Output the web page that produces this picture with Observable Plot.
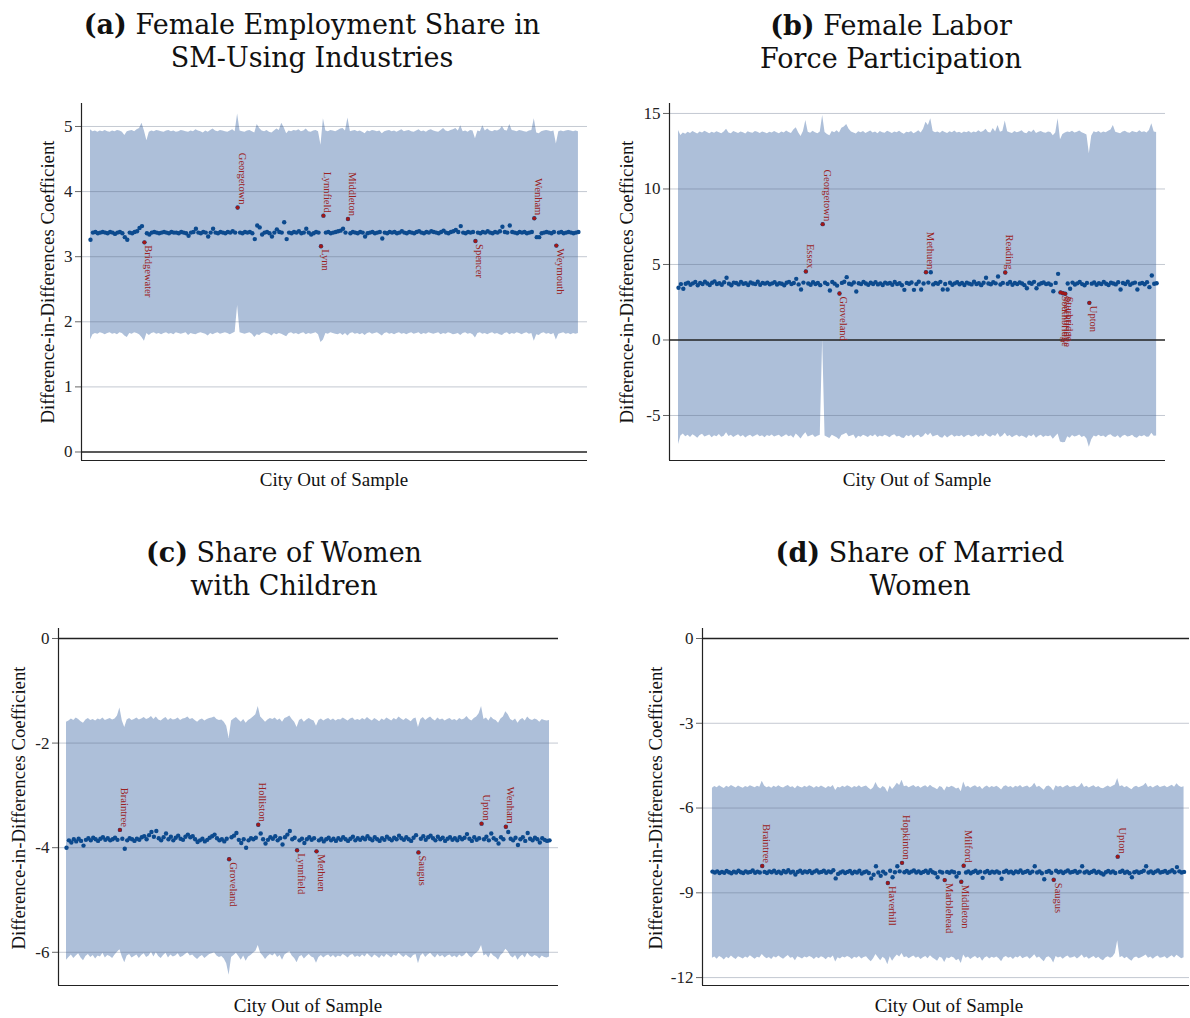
<!DOCTYPE html>
<html><head><meta charset="utf-8">
<script src="https://cdn.jsdelivr.net/npm/d3@7"></script>
<script src="https://cdn.jsdelivr.net/npm/@observablehq/plot@0.6"></script>
<style>
body{margin:0;background:#fff;}
#root{position:relative;width:1190px;height:1018px;overflow:hidden;font-family:"Liberation Serif",serif;color:#111;}
.title{position:absolute;text-align:center;font-family:"DejaVu Serif",serif;font-size:27px;line-height:33px;white-space:nowrap;transform:translateX(-50%);}
.ylab{position:absolute;font-size:18.8px;white-space:nowrap;transform:translate(-50%,-50%) rotate(-90deg);}
.xlab{position:absolute;font-size:19px;white-space:nowrap;transform:translate(-50%,-50%);}
.panel{position:absolute;}
</style></head>
<body>
<div id="root">
  <div class="title" style="left:312px;top:8px"><b>(a)</b> Female Employment Share in<br>SM-Using Industries</div>
  <div class="title" style="left:891px;top:9px"><b>(b)</b> Female Labor<br>Force Participation</div>
  <div class="title" style="left:284px;top:536px"><b>(c)</b> Share of Women<br>with Children</div>
  <div class="title" style="left:920px;top:536px"><b>(d)</b> Share of Married<br>Women</div>
  <div class="ylab" style="left:48px;top:282px">Difference-in-Differences Coefficient</div>
  <div class="ylab" style="left:627px;top:282px">Difference-in-Differences Coefficient</div>
  <div class="ylab" style="left:19px;top:808px">Difference-in-Differences Coefficient</div>
  <div class="ylab" style="left:656px;top:808px">Difference-in-Differences Coefficient</div>
  <div class="xlab" style="left:334px;top:480px">City Out of Sample</div>
  <div class="xlab" style="left:917px;top:480px">City Out of Sample</div>
  <div class="xlab" style="left:308px;top:1006px">City Out of Sample</div>
  <div class="xlab" style="left:949px;top:1006px">City Out of Sample</div>
</div>
<script>
// ---------- Panel (a): Female Employment Share in SM-Using Industries ----------
const estA = [
3.26,3.37,3.38,3.36,3.37,3.38,3.37,3.36,3.38,3.37,3.35,3.37,3.38,3.36,3.30,3.26,3.37,3.36,3.38,3.39,
3.44,3.47,3.22,3.36,3.34,3.37,3.38,3.37,3.36,3.37,3.38,3.37,3.36,3.38,3.37,3.37,3.36,3.38,3.37,3.36,
3.32,3.37,3.38,3.43,3.37,3.36,3.38,3.37,3.31,3.37,3.43,3.37,3.36,3.38,3.37,3.36,3.38,3.37,3.39,3.37,
3.755,3.37,3.36,3.38,3.37,3.38,3.36,3.27,3.48,3.45,3.34,3.37,3.38,3.36,3.31,3.37,3.42,3.38,3.37,3.53,
3.27,3.37,3.36,3.38,3.37,3.39,3.36,3.37,3.43,3.37,3.34,3.36,3.38,3.37,3.16,3.63,3.37,3.38,3.36,3.37,
3.38,3.39,3.40,3.43,3.37,3.58,3.36,3.38,3.37,3.36,3.38,3.37,3.31,3.36,3.37,3.38,3.36,3.37,3.38,3.28,
3.37,3.36,3.38,3.37,3.38,3.36,3.37,3.39,3.37,3.36,3.38,3.37,3.36,3.38,3.39,3.37,3.36,3.38,3.37,3.39,
3.38,3.37,3.36,3.38,3.40,3.37,3.36,3.38,3.39,3.41,3.38,3.47,3.37,3.36,3.38,3.37,3.38,3.24,3.37,3.36,
3.38,3.37,3.39,3.37,3.36,3.38,3.37,3.39,3.46,3.38,3.37,3.48,3.38,3.37,3.36,3.38,3.37,3.38,3.36,3.37,
3.38,3.59,3.30,3.30,3.36,3.37,3.38,3.37,3.36,3.38,3.17,3.37,3.38,3.36,3.37,3.38,3.37,3.36,3.37,3.38];
const hiA = [
4.95,4.92,4.93,4.91,4.93,4.92,4.94,4.92,4.91,4.93,4.92,4.94,4.93,4.91,4.86,4.92,4.93,4.94,4.92,4.95,
4.97,5.05,4.93,4.78,4.91,4.93,4.92,4.94,4.93,4.92,4.91,4.93,4.94,4.92,4.93,4.91,4.92,4.94,4.93,4.92,
4.91,4.93,4.92,4.95,4.93,4.92,4.90,4.93,4.91,4.94,4.96,4.93,4.92,4.94,4.93,4.92,4.91,4.93,4.95,4.92,
5.19,4.93,4.92,4.91,4.93,4.94,4.92,4.90,5.03,4.97,4.93,4.92,4.94,4.91,4.90,4.93,4.96,4.94,5.05,4.98,
4.89,4.93,4.92,4.94,4.93,4.95,4.92,4.93,4.96,4.92,4.91,4.93,4.94,4.92,4.71,5.12,4.93,4.92,4.94,4.93,
4.92,4.94,4.96,4.97,4.93,5.13,4.92,4.93,4.94,4.92,4.93,4.91,4.89,4.93,4.92,4.94,4.93,4.92,4.93,4.89,
4.92,4.93,4.94,4.92,4.93,4.91,4.93,4.95,4.92,4.93,4.94,4.92,4.91,4.93,4.95,4.92,4.93,4.91,4.94,4.95,
4.93,4.92,4.91,4.94,4.97,4.93,4.92,4.94,4.95,4.97,4.93,5.01,4.92,4.93,4.91,4.94,4.93,4.81,4.93,4.92,
5.01,4.93,4.96,4.93,4.92,4.94,4.93,4.95,5.00,4.94,4.93,5.03,4.94,4.93,4.92,4.94,4.93,4.92,4.91,4.93,
4.94,5.12,4.90,4.89,4.92,4.93,4.94,4.93,4.92,4.93,4.73,4.92,4.93,4.92,4.93,4.94,4.93,4.92,4.93,4.92];
const loA = [
1.72,1.80,1.82,1.81,1.83,1.82,1.80,1.82,1.83,1.81,1.82,1.80,1.83,1.82,1.78,1.76,1.82,1.81,1.83,1.82,
1.80,1.76,1.70,1.82,1.79,1.82,1.83,1.81,1.82,1.80,1.82,1.83,1.81,1.82,1.80,1.83,1.82,1.81,1.82,1.83,
1.79,1.82,1.81,1.80,1.82,1.83,1.82,1.81,1.78,1.82,1.80,1.82,1.83,1.81,1.82,1.83,1.82,1.80,1.82,1.84,
2.25,1.83,1.82,1.81,1.82,1.83,1.81,1.76,1.80,1.79,1.82,1.83,1.82,1.81,1.78,1.82,1.80,1.82,1.81,1.79,
1.77,1.82,1.83,1.81,1.82,1.80,1.82,1.83,1.80,1.82,1.81,1.82,1.83,1.80,1.68,1.72,1.82,1.81,1.83,1.82,
1.81,1.80,1.82,1.79,1.82,1.78,1.82,1.83,1.81,1.82,1.80,1.82,1.79,1.82,1.83,1.81,1.82,1.83,1.81,1.78,
1.82,1.83,1.81,1.82,1.80,1.82,1.83,1.81,1.82,1.80,1.82,1.83,1.81,1.82,1.83,1.80,1.82,1.81,1.83,1.82,
1.81,1.82,1.83,1.80,1.82,1.81,1.83,1.82,1.80,1.81,1.82,1.79,1.82,1.83,1.81,1.82,1.80,1.75,1.82,1.83,
1.81,1.82,1.80,1.82,1.83,1.81,1.82,1.80,1.79,1.82,1.83,1.80,1.82,1.81,1.83,1.82,1.80,1.82,1.83,1.81,
1.82,1.70,1.80,1.79,1.82,1.83,1.81,1.82,1.80,1.82,1.72,1.81,1.82,1.83,1.81,1.82,1.80,1.82,1.81,1.82];
const namesA = ["Bridgewater","Georgetown","Lynn","Lynnfield","Middleton","Spencer","Wenham","Weymouth"];
const idxA = [22,60,94,95,105,157,181,190];
const ticksA = [0,1,2,3,4,5];

// ---------- Panel (b): Female Labor Force Participation ----------
const estB = [
3.46,3.70,3.39,3.72,3.80,3.66,3.75,3.84,3.62,3.78,3.70,3.86,3.74,3.64,3.79,3.88,3.71,3.76,3.66,3.82,
4.12,3.73,3.62,3.80,3.77,3.68,3.85,3.72,3.76,3.64,3.81,3.74,3.70,3.86,3.66,3.78,3.73,3.80,3.69,3.75,
3.83,3.67,3.76,3.72,3.62,3.79,3.85,3.70,3.77,4.05,3.68,3.34,3.80,4.54,3.74,3.66,3.82,3.71,3.77,3.63,
7.67,3.79,3.70,3.28,3.84,3.73,3.60,3.08,3.78,3.86,4.16,3.72,3.67,3.81,3.21,3.76,3.70,3.85,3.74,3.66,
3.79,3.71,3.83,3.68,3.75,3.64,3.80,3.73,3.77,3.66,3.84,3.70,3.76,3.62,3.32,3.78,3.72,3.81,3.32,3.70,
3.86,3.34,3.74,4.49,3.80,4.49,3.68,3.77,3.72,3.85,3.34,3.71,3.34,3.79,3.66,3.75,3.82,3.69,3.77,3.64,
3.80,3.73,3.68,3.86,3.71,3.76,3.63,3.79,4.12,3.74,3.69,3.82,3.75,4.20,3.67,3.78,4.47,3.72,3.84,3.66,
3.77,3.70,3.81,3.74,3.63,3.43,3.79,3.72,3.85,3.43,3.68,3.76,3.81,3.70,3.74,3.66,3.23,3.78,4.38,3.15,
3.10,3.06,3.74,3.39,3.80,3.67,3.75,3.84,3.70,3.62,3.78,2.46,3.73,3.81,3.66,3.76,3.70,3.85,3.72,3.64,
3.79,3.74,3.68,3.82,3.34,3.77,3.71,3.86,3.66,3.75,3.80,3.34,3.73,3.78,3.69,3.83,3.50,4.27,3.72,3.76];
const hiB = [
13.87,13.54,13.70,13.62,13.75,13.68,13.80,13.72,13.64,13.78,13.70,13.82,13.74,13.66,13.76,13.69,13.79,13.73,13.65,13.77,
13.95,13.71,13.66,13.80,13.74,13.68,13.77,13.72,13.64,13.79,13.73,13.69,13.81,13.75,13.67,13.78,13.72,13.65,13.76,13.70,
13.80,13.73,13.66,13.77,13.71,13.84,13.74,13.68,13.90,14.05,13.72,13.47,13.80,14.54,13.75,13.69,13.82,13.72,13.66,13.78,
14.87,13.74,13.60,13.52,13.80,13.73,13.86,13.70,14.02,14.10,14.27,13.95,13.78,13.70,13.64,13.79,13.72,13.81,13.68,13.75,
13.84,13.71,13.77,13.66,13.80,13.73,13.69,13.82,13.75,13.67,13.78,13.72,13.83,13.70,13.62,13.76,13.73,13.80,13.66,13.74,
13.85,13.70,13.95,14.42,14.20,14.65,13.80,13.73,13.77,13.69,13.82,13.74,13.68,13.79,13.72,13.84,13.70,13.76,13.67,13.78,
13.73,13.81,13.69,13.77,13.72,13.86,13.74,13.80,13.96,13.74,13.70,14.00,13.78,14.20,13.75,13.82,14.50,13.79,13.73,13.68,
13.80,13.72,13.77,13.85,13.70,13.66,13.82,13.74,13.90,13.68,13.76,13.80,13.72,13.69,13.78,13.74,13.52,13.70,14.65,13.26,
13.60,13.70,13.78,13.74,13.82,13.70,13.76,13.84,13.72,13.66,13.58,12.33,13.50,13.79,13.73,13.80,13.69,13.77,13.72,13.83,
13.90,14.20,13.75,13.70,13.66,13.78,13.82,13.73,13.69,13.80,13.76,13.72,13.85,13.74,13.79,13.70,13.88,14.32,13.78,13.74];
const loB = [
-6.92,-6.35,-6.22,-6.40,-6.30,-6.45,-6.28,-6.38,-6.50,-6.33,-6.25,-6.42,-6.36,-6.29,-6.47,-6.34,-6.40,-6.26,-6.44,-6.37,
-6.15,-6.39,-6.31,-6.46,-6.35,-6.28,-6.42,-6.33,-6.49,-6.38,-6.30,-6.44,-6.36,-6.27,-6.41,-6.34,-6.48,-6.32,-6.39,-6.29,
-6.43,-6.35,-6.30,-6.46,-6.38,-6.27,-6.41,-6.34,-6.50,-6.22,-6.37,-6.55,-6.33,-6.15,-6.42,-6.36,-6.29,-6.45,-6.38,-6.31,
0.05,-6.35,-6.44,-6.52,-6.30,-6.39,-6.47,-6.60,-6.33,-6.26,-6.18,-6.41,-6.36,-6.29,-6.55,-6.38,-6.44,-6.31,-6.37,-6.46,
-6.33,-6.40,-6.28,-6.45,-6.36,-6.42,-6.30,-6.38,-6.47,-6.34,-6.27,-6.43,-6.37,-6.49,-6.52,-6.33,-6.40,-6.29,-6.50,-6.36,
-6.31,-6.48,-6.39,-6.20,-6.34,-6.18,-6.42,-6.36,-6.30,-6.45,-6.50,-6.33,-6.49,-6.38,-6.29,-6.44,-6.35,-6.41,-6.32,-6.47,
-6.36,-6.30,-6.43,-6.38,-6.27,-6.45,-6.34,-6.40,-6.22,-6.37,-6.44,-6.31,-6.39,-6.20,-6.46,-6.35,-6.18,-6.41,-6.33,-6.48,
-6.37,-6.30,-6.44,-6.35,-6.42,-6.52,-6.33,-6.40,-6.28,-6.50,-6.38,-6.31,-6.45,-6.36,-6.41,-6.34,-6.58,-6.39,-6.22,-6.75,
-6.80,-6.78,-6.40,-6.50,-6.33,-6.42,-6.37,-6.29,-6.45,-6.38,-6.55,-7.10,-6.60,-6.35,-6.43,-6.30,-6.41,-6.36,-6.47,-6.32,
-6.28,-6.40,-6.45,-6.34,-6.52,-6.37,-6.31,-6.43,-6.39,-6.30,-6.46,-6.50,-6.35,-6.41,-6.33,-6.44,-6.42,-6.18,-6.38,-6.35];
const namesB = ["Essex","Georgetown","Groveland","Methuen","Reading","Southbridge","Stockbridge","Sturbridge","Upton"];
const idxB = [53,60,67,103,136,159,160,161,171];
const ticksB = [-5,0,5,10,15];

// ---------- Panel (c): Share of Women with Children ----------
const estC = [
-4.00,-3.86,-3.90,-3.84,-3.88,-3.83,-3.87,-3.96,-3.85,-3.82,-3.86,-3.81,-3.84,-3.87,-3.83,-3.80,-3.85,-3.82,-3.86,-3.84,
-3.81,-3.85,-3.66,-3.83,-4.02,-3.86,-3.82,-3.84,-3.87,-3.83,-3.85,-3.80,-3.78,-3.84,-3.76,-3.70,-3.79,-3.68,-3.82,-3.86,
-3.80,-3.73,-3.84,-3.79,-3.86,-3.81,-3.77,-3.83,-3.85,-3.79,-3.75,-3.80,-3.78,-3.84,-3.89,-3.86,-3.83,-3.88,-3.85,-3.81,
-3.78,-3.75,-3.82,-3.86,-3.84,-3.88,-3.83,-4.22,-3.80,-3.77,-3.72,-3.85,-3.91,-3.84,-4.00,-3.86,-3.82,-3.84,-3.81,-3.56,
-3.73,-3.84,-3.92,-3.85,-3.80,-3.83,-3.78,-3.86,-3.82,-3.94,-3.80,-3.75,-3.68,-3.84,-3.81,-4.05,-3.86,-3.83,-3.91,-3.84,
-3.80,-3.85,-3.82,-4.07,-3.86,-3.83,-3.88,-3.84,-3.81,-3.86,-3.83,-3.87,-3.82,-3.85,-3.80,-3.84,-3.87,-3.83,-3.79,-3.86,
-3.82,-3.85,-3.81,-3.84,-3.78,-3.83,-3.86,-3.80,-3.84,-3.87,-3.82,-3.85,-3.79,-3.83,-3.86,-3.81,-3.84,-3.77,-3.82,-3.85,
-3.80,-3.84,-3.87,-3.81,-3.76,-4.09,-3.83,-3.78,-3.85,-3.80,-3.77,-3.82,-3.86,-3.79,-3.84,-3.81,-3.87,-3.83,-3.80,-3.85,
-3.82,-3.86,-3.80,-3.84,-3.81,-3.74,-3.83,-3.87,-3.80,-3.85,-3.82,-3.54,-3.84,-3.79,-3.86,-3.73,-3.82,-3.85,-3.92,-3.80,
-3.84,-3.60,-3.70,-3.83,-3.86,-3.81,-3.95,-3.84,-3.80,-3.87,-3.72,-3.83,-3.86,-3.81,-3.84,-3.90,-3.82,-3.85,-3.87,-3.86];
const hiC = [
-1.60,-1.58,-1.54,-1.57,-1.52,-1.55,-1.59,-1.62,-1.56,-1.53,-1.57,-1.55,-1.58,-1.54,-1.56,-1.52,-1.57,-1.55,-1.53,-1.56,
-1.54,-1.48,-1.33,-1.58,-1.70,-1.56,-1.53,-1.57,-1.55,-1.52,-1.56,-1.54,-1.51,-1.55,-1.53,-1.49,-1.55,-1.50,-1.56,-1.58,
-1.54,-1.51,-1.57,-1.53,-1.56,-1.55,-1.52,-1.57,-1.54,-1.53,-1.50,-1.55,-1.53,-1.57,-1.60,-1.56,-1.54,-1.58,-1.55,-1.53,
-1.52,-1.50,-1.55,-1.57,-1.56,-1.60,-1.68,-1.91,-1.58,-1.54,-1.51,-1.56,-1.60,-1.55,-1.62,-1.57,-1.54,-1.50,-1.46,-1.30,
-1.50,-1.55,-1.60,-1.56,-1.53,-1.55,-1.52,-1.57,-1.54,-1.60,-1.53,-1.51,-1.48,-1.55,-1.60,-1.70,-1.57,-1.54,-1.60,-1.56,
-1.53,-1.56,-1.58,-1.68,-1.57,-1.54,-1.58,-1.55,-1.53,-1.57,-1.54,-1.58,-1.55,-1.56,-1.52,-1.55,-1.58,-1.54,-1.52,-1.57,
-1.55,-1.57,-1.53,-1.56,-1.51,-1.55,-1.58,-1.53,-1.56,-1.59,-1.54,-1.57,-1.52,-1.55,-1.58,-1.53,-1.56,-1.50,-1.54,-1.57,
-1.53,-1.56,-1.59,-1.54,-1.52,-1.70,-1.55,-1.51,-1.57,-1.53,-1.50,-1.55,-1.58,-1.52,-1.56,-1.54,-1.58,-1.55,-1.53,-1.57,
-1.55,-1.58,-1.53,-1.56,-1.54,-1.49,-1.55,-1.58,-1.53,-1.50,-1.44,-1.30,-1.55,-1.52,-1.58,-1.50,-1.55,-1.57,-1.62,-1.54,
-1.50,-1.40,-1.46,-1.55,-1.58,-1.54,-1.62,-1.56,-1.53,-1.58,-1.50,-1.55,-1.57,-1.54,-1.56,-1.60,-1.55,-1.57,-1.58,-1.57];
const loC = [
-6.15,-6.10,-6.05,-6.12,-6.07,-6.03,-6.11,-6.16,-6.08,-6.04,-6.10,-6.06,-6.13,-6.07,-6.09,-6.02,-6.11,-6.06,-6.08,-6.12,
-6.05,-6.00,-5.95,-6.09,-6.20,-6.07,-6.04,-6.11,-6.08,-6.05,-6.12,-6.06,-6.03,-6.10,-6.07,-6.00,-6.09,-6.01,-6.08,-6.12,
-6.06,-6.02,-6.11,-6.05,-6.09,-6.07,-6.03,-6.10,-6.08,-6.04,-6.01,-6.07,-6.05,-6.10,-6.14,-6.09,-6.06,-6.12,-6.08,-6.04,
-6.03,-6.01,-6.07,-6.10,-6.08,-6.13,-6.22,-6.44,-6.10,-6.06,-6.02,-6.08,-6.15,-6.07,-6.17,-6.09,-6.06,-6.02,-5.98,-5.87,
-6.02,-6.07,-6.14,-6.08,-6.04,-6.07,-6.03,-6.10,-6.06,-6.15,-6.05,-6.02,-5.99,-6.07,-6.12,-6.20,-6.09,-6.06,-6.13,-6.08,
-6.04,-6.09,-6.11,-6.21,-6.10,-6.06,-6.11,-6.07,-6.05,-6.10,-6.06,-6.11,-6.07,-6.09,-6.04,-6.07,-6.11,-6.06,-6.04,-6.10,
-6.07,-6.10,-6.05,-6.09,-6.03,-6.07,-6.11,-6.05,-6.08,-6.12,-6.06,-6.10,-6.04,-6.07,-6.11,-6.05,-6.08,-6.02,-6.06,-6.10,
-6.05,-6.09,-6.12,-6.06,-6.04,-6.22,-6.07,-6.03,-6.10,-6.05,-6.02,-6.07,-6.11,-6.04,-6.09,-6.06,-6.11,-6.07,-6.05,-6.10,
-6.07,-6.11,-6.05,-6.09,-6.06,-6.01,-6.07,-6.11,-6.05,-6.02,-5.97,-5.87,-6.07,-6.04,-6.11,-6.02,-6.07,-6.10,-6.15,-6.06,
-6.02,-5.94,-5.99,-6.07,-6.11,-6.06,-6.15,-6.09,-6.05,-6.11,-6.02,-6.07,-6.10,-6.06,-6.08,-6.13,-6.07,-6.10,-6.11,-6.09];
const namesC = ["Braintree","Groveland","Holliston","Lynnfield","Methuen","Saugus","Upton","Wenham"];
const idxC = [22,67,79,95,103,145,171,181];
const ticksC = [-6,-4,-2,0];

// ---------- Panel (d): Share of Married Women ----------
const estD = [
-8.25,-8.28,-8.24,-8.30,-8.26,-8.29,-8.23,-8.27,-8.31,-8.25,-8.28,-8.22,-8.27,-8.30,-8.24,-8.28,-8.26,-8.21,-8.29,-8.25,
-8.28,-8.05,-8.26,-8.30,-8.24,-8.27,-8.22,-8.29,-8.25,-8.31,-8.23,-8.27,-8.20,-8.28,-8.25,-8.35,-8.26,-8.22,-8.29,-8.24,
-8.27,-8.23,-8.30,-8.25,-8.21,-8.28,-8.26,-8.22,-8.29,-8.24,-8.27,-8.20,-8.49,-8.33,-8.28,-8.24,-8.30,-8.26,-8.23,-8.31,
-8.25,-8.28,-8.22,-8.32,-8.27,-8.24,-8.30,-8.49,-8.36,-8.06,-8.28,-8.40,-8.25,-8.32,-8.65,-8.22,-8.45,-8.27,-8.06,-8.24,
-7.94,-8.27,-8.23,-8.29,-8.25,-8.21,-8.28,-8.24,-8.30,-8.26,-8.22,-8.29,-8.20,-8.27,-8.31,-8.45,-8.25,-8.28,-8.55,-8.26,
-8.29,-8.24,-8.27,-8.42,-8.30,-8.61,-8.04,-8.28,-8.24,-8.31,-8.26,-8.22,-8.29,-8.25,-8.47,-8.27,-8.23,-8.30,-8.25,-8.28,
-8.24,-8.29,-8.50,-8.26,-8.22,-8.28,-8.25,-8.31,-8.24,-8.27,-8.21,-8.29,-8.26,-8.23,-8.30,-8.25,-8.06,-8.28,-8.24,-8.31,
-8.52,-8.26,-8.23,-8.29,-8.54,-8.22,-8.27,-8.24,-8.30,-8.25,-8.21,-8.28,-8.26,-8.23,-8.29,-8.25,-8.06,-8.28,-8.24,-8.30,
-8.26,-8.22,-8.29,-8.25,-8.31,-8.35,-8.27,-8.23,-8.28,-8.24,-8.30,-7.72,-8.26,-8.22,-8.29,-8.25,-8.31,-8.45,-8.27,-8.24,
-8.29,-8.26,-8.22,-8.06,-8.28,-8.24,-8.30,-8.25,-8.21,-8.28,-8.26,-8.23,-8.29,-8.25,-8.20,-8.27,-8.09,-8.24,-8.28,-8.26];
const hiD = [
-5.30,-5.24,-5.28,-5.21,-5.26,-5.31,-5.23,-5.27,-5.20,-5.25,-5.29,-5.22,-5.26,-5.30,-5.24,-5.27,-5.21,-5.25,-5.28,-5.23,
-5.26,-5.05,-5.22,-5.28,-5.25,-5.30,-5.23,-5.27,-5.21,-5.26,-5.29,-5.24,-5.20,-5.27,-5.25,-5.32,-5.22,-5.26,-5.29,-5.23,
-5.27,-5.21,-5.25,-5.30,-5.24,-5.28,-5.22,-5.26,-5.31,-5.24,-5.27,-5.20,-5.38,-5.26,-5.29,-5.23,-5.27,-5.21,-5.25,-5.30,
-5.24,-5.27,-5.21,-5.28,-5.25,-5.22,-5.30,-5.36,-5.28,-5.10,-5.26,-5.33,-5.24,-5.29,-5.45,-5.22,-5.34,-5.25,-5.12,-5.20,
-5.02,-5.25,-5.22,-5.28,-5.24,-5.20,-5.27,-5.23,-5.30,-5.25,-5.21,-5.28,-5.19,-5.26,-5.30,-5.35,-5.24,-5.27,-5.40,-5.25,
-5.28,-5.23,-5.26,-5.33,-5.29,-5.42,-5.08,-5.27,-5.23,-5.30,-5.25,-5.21,-5.28,-5.24,-5.34,-5.26,-5.22,-5.29,-5.24,-5.27,
-5.23,-5.28,-5.36,-5.25,-5.21,-5.27,-5.24,-5.30,-5.23,-5.26,-5.20,-5.28,-5.25,-5.22,-5.29,-5.24,-5.12,-5.27,-5.23,-5.30,
-5.37,-5.25,-5.22,-5.28,-5.40,-5.21,-5.26,-5.23,-5.29,-5.24,-5.20,-5.27,-5.25,-5.22,-5.28,-5.24,-5.12,-5.27,-5.23,-5.29,
-5.25,-5.21,-5.28,-5.24,-5.30,-5.32,-5.26,-5.22,-5.27,-5.23,-5.18,-4.95,-5.25,-5.21,-5.28,-5.24,-5.30,-5.35,-5.26,-5.23,
-5.28,-5.25,-5.21,-5.12,-5.27,-5.23,-5.29,-5.24,-5.20,-5.27,-5.25,-5.22,-5.28,-5.24,-5.19,-5.26,-5.14,-5.23,-5.27,-5.25];
const loD = [
-11.32,-11.27,-11.35,-11.25,-11.30,-11.38,-11.28,-11.33,-11.24,-11.31,-11.36,-11.26,-11.30,-11.34,-11.27,-11.32,-11.23,-11.29,-11.35,-11.28,
-11.31,-11.18,-11.27,-11.33,-11.29,-11.36,-11.26,-11.31,-11.24,-11.30,-11.35,-11.28,-11.22,-11.32,-11.29,-11.40,-11.26,-11.30,-11.34,-11.27,
-11.31,-11.25,-11.29,-11.36,-11.28,-11.33,-11.26,-11.30,-11.37,-11.28,-11.32,-11.24,-11.45,-11.30,-11.34,-11.27,-11.31,-11.25,-11.29,-11.36,
-11.28,-11.32,-11.25,-11.34,-11.29,-11.26,-11.36,-11.44,-11.33,-11.18,-11.30,-11.40,-11.28,-11.35,-11.55,-11.26,-11.42,-11.30,-11.20,-11.27,
-11.15,-11.30,-11.26,-11.33,-11.28,-11.24,-11.32,-11.27,-11.36,-11.30,-11.25,-11.33,-11.23,-11.31,-11.36,-11.42,-11.28,-11.32,-11.47,-11.30,
-11.33,-11.27,-11.31,-11.40,-11.35,-11.50,-11.20,-11.32,-11.27,-11.36,-11.30,-11.25,-11.33,-11.28,-11.42,-11.31,-11.26,-11.34,-11.28,-11.32,
-11.27,-11.33,-11.44,-11.30,-11.25,-11.32,-11.28,-11.36,-11.27,-11.31,-11.24,-11.33,-11.29,-11.26,-11.35,-11.28,-11.19,-11.32,-11.27,-11.36,
-11.44,-11.30,-11.26,-11.33,-11.48,-11.25,-11.31,-11.27,-11.35,-11.28,-11.24,-11.32,-11.30,-11.26,-11.34,-11.28,-11.20,-11.32,-11.27,-11.35,
-11.30,-11.25,-11.33,-11.28,-11.36,-11.40,-11.31,-11.26,-11.32,-11.27,-11.15,-10.70,-11.30,-11.25,-11.33,-11.28,-11.36,-11.42,-11.31,-11.27,
-11.33,-11.30,-11.25,-11.20,-11.32,-11.27,-11.35,-11.28,-11.24,-11.32,-11.30,-11.26,-11.34,-11.28,-11.23,-11.31,-11.21,-11.27,-11.33,-11.30];
const namesD = ["Braintree","Haverhill","Hopkinton","Marblehead","Middleton","Milford","Saugus","Upton"];
const idxD = [21,74,80,98,105,106,144,171];
const ticksD = [-12,-9,-6,-3,0];

// ---------- drawing ----------
const FONT = '"Liberation Serif", serif';
function panel(c) {
  const data = c.est.map((v, i) => ({i, v, lo: c.lo[i], hi: c.hi[i]}));
  const base = d3.median(c.est);
  const labs = c.names.map((n, k) => ({i: c.idx[k], v: c.est[c.idx[k]], n, up: c.est[c.idx[k]] > base}));
  const grid = c.ticks.filter(t => t !== 0);
  const txt = {x: "i", y: "v", text: "n", rotate: 90, lineAnchor: "bottom", fill: "#9b2222", fontSize: 10.5, fontFamily: FONT};
  const svg = Plot.plot({
    width: c.width, height: c.height,
    marginLeft: c.ml, marginRight: c.mr, marginTop: c.mt, marginBottom: c.mb,
    style: {fontFamily: FONT, fontSize: "17px", background: "transparent", overflow: "visible", color: "#222"},
    x: {domain: c.xdom, axis: null},
    y: {domain: c.ydom, axis: null},
    marks: [
      Plot.areaY(data, {x: "i", y1: "lo", y2: "hi", fill: "#adbfd9"}),
      Plot.ruleY(grid, {stroke: "#55657d", strokeOpacity: 0.35}),
      Plot.ruleY([0], {stroke: "#222", strokeWidth: 1.5}),
      Plot.dot(data, {x: "i", y: "v", r: 2.2, fill: "#0c4a8e"}),
      Plot.dot(labs, {x: "i", y: "v", r: 1.9, fill: "#a01818"}),
      Plot.text(labs.filter(d => d.up), {...txt, textAnchor: "end", dx: 1, dy: -3}),
      Plot.text(labs.filter(d => !d.up), {...txt, textAnchor: "start", dx: 1, dy: 3}),
      Plot.axisY({ticks: c.ticks, tickSize: 6, tickPadding: 3, tickFormat: d => String(d), stroke: "#666", fill: "#222", fontSize: 17}),
      Plot.ruleX([c.xdom[0]], {stroke: "#222", strokeWidth: 1.2}),
      Plot.ruleY([c.ydom[0]], {stroke: "#222", strokeWidth: 1.2})
    ]
  });
  const div = document.createElement("div");
  div.className = "panel";
  div.style.left = c.left + "px";
  div.style.top = c.top + "px";
  div.style.width = c.width + "px";
  div.appendChild(svg);
  document.getElementById("root").appendChild(div);
}

panel({est: estA, lo: loA, hi: hiA, names: namesA, idx: idxA, ticks: ticksA,
  ydom: [-0.1306, 5.353], xdom: [-3.67, 202.7], left: 0, top: 95, width: 600, height: 375, ml: 81, mr: 13, mt: 8, mb: 10});
panel({est: estB, lo: loB, hi: hiB, names: namesB, idx: idxB, ticks: ticksB,
  ydom: [-7.98, 15.66], xdom: [-3.75, 202.7], left: 600, top: 95, width: 575, height: 375, ml: 69, mr: 10, mt: 8, mb: 10});
panel({est: estC, lo: loC, hi: hiC, names: namesC, idx: idxC, ticks: ticksC,
  ydom: [-6.635, 0.191], xdom: [-3.30, 202.7], left: 0, top: 620, width: 570, height: 375, ml: 58, mr: 12, mt: 8, mb: 10});
panel({est: estD, lo: loD, hi: hiD, names: namesD, idx: idxD, ticks: ticksD,
  ydom: [-12.28, 0.354], xdom: [-4.2, 201.3], left: 640, top: 620, width: 550, height: 375, ml: 62, mr: 1, mt: 8, mb: 10});
</script>
</body></html>
